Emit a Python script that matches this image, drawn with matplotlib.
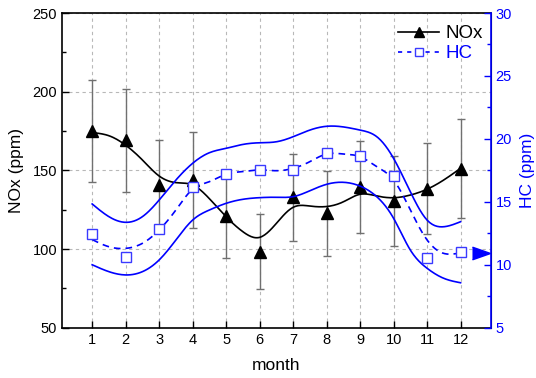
import numpy as np
import matplotlib
matplotlib.use("Agg")
import matplotlib.pyplot as plt
from matplotlib.lines import Line2D

plt.rcParams["font.family"] = ["Liberation Sans", "DejaVu Sans"]

# Mesures mensuelles
mois = [1, 2, 3, 4, 5, 6, 7, 8, 9, 10, 11, 12]
nox = [175, 169, 141, 144, 121, 98.3, 133, 122.7, 139.4, 130.5, 138.3, 151]
nox_err = [32.5, 32.5, 28, 30.5, 27, 24, 27.7, 27, 29, 28.7, 29, 31.5]
hc = [12.44, 10.59, 12.86, 16.15, 17.21, 17.5, 17.53, 18.9, 18.66, 17.07, 10.56, 11.01]

# Courbes lissées (valeurs tous les demi-mois)
mois_lisse = [1, 1.5, 2, 2.5, 3, 3.5, 4, 4.5, 5, 5.5, 6, 6.5,
              7, 7.5, 8, 8.5, 9, 9.5, 10, 10.5, 11, 11.5, 12]
nox_lisse = [174, 172, 166, 156.6, 146.4, 142.2, 140.7, 132, 120.5, 111, 107.4, 116.3,
             126.5, 127.3, 127, 130, 134.8, 133.7, 132.6, 134.3, 138, 143.9, 151.3]
hc_lisse = [12.0, 11.43, 11.3, 11.7, 12.76, 14.35, 16.0, 16.6, 17.2, 17.4, 17.53, 17.47,
            17.66, 18.19, 18.8, 18.8, 18.58, 17.79, 16.73, 14.35, 11.97, 10.9, 10.95]
hc_haut = [14.83, 13.82, 13.37, 13.82, 15.14, 16.73, 18.06, 18.9, 19.25, 19.56, 19.69, 19.77,
           20.17, 20.7, 21.0, 20.95, 20.7, 20.17, 18.45, 15.8, 13.55, 13.02, 13.42]
hc_bas = [10.0, 9.45, 9.19, 9.45, 10.38, 11.97, 13.55, 14.35, 14.88, 15.2, 15.33, 15.36,
          15.41, 15.88, 16.39, 16.55, 16.25, 15.4, 13.69, 11.17, 9.72, 8.92, 8.57]

BLEU = "#0000ff"


def spline(xs, ys, num=300):
    """Spline cubique naturelle pour tracer une courbe lisse."""
    xs = np.asarray(xs, float)
    ys = np.asarray(ys, float)
    n = len(xs)
    h = np.diff(xs)
    A = np.zeros((n, n))
    b = np.zeros(n)
    A[0, 0] = A[-1, -1] = 1
    for i in range(1, n - 1):
        A[i, i - 1] = h[i - 1]
        A[i, i] = 2 * (h[i - 1] + h[i])
        A[i, i + 1] = h[i]
        b[i] = 6 * ((ys[i + 1] - ys[i]) / h[i] - (ys[i] - ys[i - 1]) / h[i - 1])
    m = np.linalg.solve(A, b)
    xf = np.linspace(xs[0], xs[-1], num)
    k = np.clip(np.searchsorted(xs, xf) - 1, 0, n - 2)
    hk = h[k]
    a = xs[k + 1] - xf
    t = xf - xs[k]
    yf = (m[k] * a ** 3 + m[k + 1] * t ** 3) / (6 * hk) \
        + (ys[k] / hk - m[k] * hk / 6) * a + (ys[k + 1] / hk - m[k + 1] * hk / 6) * t
    return xf, yf


fig = plt.figure(figsize=(5.36, 3.78), dpi=100)
ax = fig.add_axes([0.1157, 0.1331, 0.7998, 0.8325])
ax2 = ax.twinx()

# ── Axe gauche : NOx ──
ax.errorbar(mois, nox, yerr=nox_err, fmt="none", ecolor="#707070",
            elinewidth=1.0, capsize=2.8, capthick=1.0, zorder=2)
xs, ys = spline(mois_lisse, nox_lisse)
ax.plot(xs, ys, color="black", lw=1.2, zorder=3)
ax.plot(mois, nox, ls="none", marker="^", ms=9, color="black", zorder=4)

ax.set_xlim(0.1, 12.9)
ax.set_ylim(50, 250)
ax.set_xticks(mois)
ax.set_yticks([50, 100, 150, 200, 250])
ax.set_yticks([75, 125, 175, 225], minor=True)
ax.grid(True, which="major", ls=(0, (3, 3)), color="#b8b8b8", lw=0.8)
ax.set_axisbelow(True)
ax.tick_params(axis="both", which="both", direction="in", labelsize=10.5,
               top=False, right=False)
ax.tick_params(which="major", length=5, width=1)
ax.tick_params(which="minor", length=3, width=1)
ax.set_xlabel("month", fontsize=12.5, labelpad=8)
ax.set_ylabel("NOx (ppm)", fontsize=12.5, labelpad=6)
for s in ["left", "bottom", "top"]:
    ax.spines[s].set_linewidth(1.2)

# ── Axe droit : HC ──
for courbe in (hc_haut, hc_bas):
    xs, ys = spline(mois_lisse, courbe)
    ax2.plot(xs, ys, color=BLEU, lw=1.2, zorder=3)
xs, ys = spline(mois_lisse, hc_lisse)
ax2.plot(xs, ys, color=BLEU, lw=1.2, ls=(0, (4, 3)), zorder=3)
ax2.plot(mois, hc, ls="none", marker="s", ms=7, mfc="white", mec="#3a3aff",
         mew=1.0, zorder=4)
# flèche indiquant l'axe de la série HC
ax2.plot([12.605], [10.9], ls="none", marker=[(-1, -0.7), (1, 0), (-1, 0.7)],
         ms=13, color=BLEU, clip_on=False, zorder=5)

ax2.set_ylim(5, 30)
ax2.set_yticks([5, 10, 15, 20, 25, 30])
ax2.set_yticks([7.5, 12.5, 17.5, 22.5, 27.5], minor=True)
ax2.tick_params(axis="y", which="both", direction="in", colors=BLEU, labelsize=10.5)
ax2.tick_params(which="major", length=5, width=1)
ax2.tick_params(which="minor", length=3, width=1)
ax2.set_ylabel("HC (ppm)", fontsize=12.5, color=BLEU, labelpad=6)
ax2.spines["right"].set_color(BLEU)
ax2.spines["right"].set_linewidth(1.2)
ax2.spines["left"].set_visible(False)
ax2.spines["top"].set_visible(False)
ax2.spines["bottom"].set_visible(False)

poignees = [
    Line2D([], [], color="black", lw=1.2, marker="^", ms=7),
    Line2D([], [], color=BLEU, lw=1.2, ls=(0, (2.5, 3)), marker="s", ms=6,
           mfc="white", mec="#3a3aff"),
]
leg = ax2.legend(poignees, ["NOx", "HC"], loc="upper right",
                 bbox_to_anchor=(1.0, 0.985), frameon=False,
                 fontsize=13.5, handlelength=2.2, handletextpad=0.35,
                 labelspacing=0.15, borderaxespad=0.0)
leg.get_texts()[1].set_color(BLEU)

fig.savefig("out.png", dpi=100)
